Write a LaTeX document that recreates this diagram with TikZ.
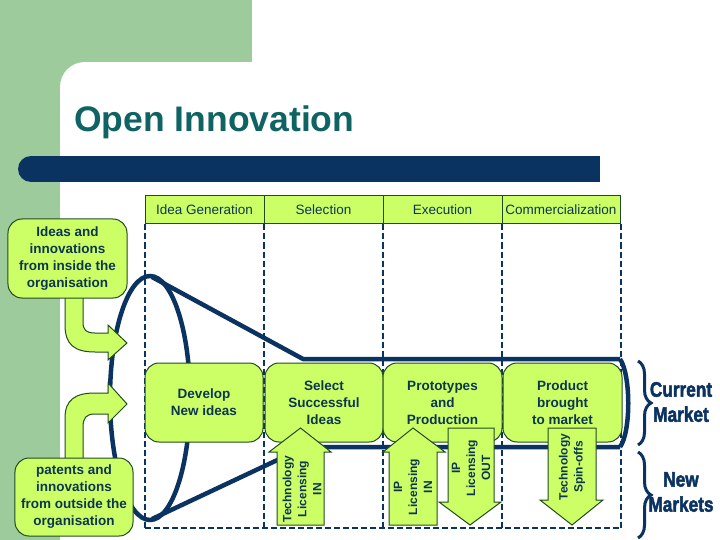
\documentclass[tikz,border=0pt]{standalone}
\usepackage{fontspec}
\usepackage{graphicx}
\setmainfont{Liberation Sans}
\newfontfamily\mktfont{Liberation Sans}[BoldFeatures={FakeBold=2.5}]
\usetikzlibrary{decorations.pathreplacing}
\definecolor{bggreen}{HTML}{9DCB9B}
\definecolor{lgreen}{HTML}{CCFF66}
\definecolor{dkgreen}{HTML}{224A22}
\definecolor{navy}{HTML}{0B3361}
\definecolor{txtnavy}{HTML}{0D3550}
\definecolor{titleteal}{HTML}{0F6363}
\begin{document}
\begin{tikzpicture}[x=1bp,y=-1bp,
  hdr/.style={draw=dkgreen, fill=lgreen, line width=1bp, minimum height=28bp, inner sep=0pt, text=txtnavy, font=\fontsize{13.5bp}{16bp}\selectfont},
  stagebox/.style={draw=dkgreen, fill=lgreen, line width=1bp, rounded corners=14bp, minimum height=79bp, inner sep=2bp, align=center, text=txtnavy, font=\bfseries\fontsize{13.5bp}{17bp}\selectfont},
  arrowshape/.style={draw=dkgreen, fill=lgreen, line width=1bp, line join=miter},
  arrowtext/.style={rotate=90, align=center, text=txtnavy, font=\bfseries\fontsize{12bp}{15bp}\selectfont, inner sep=0pt},
  dline/.style={draw=navy, line width=2bp, dash pattern=on 6bp off 3bp},
  funnel/.style={draw=navy, line width=4.5bp},
  brc/.style={draw=navy, line width=3bp, decorate, decoration={brace, amplitude=13bp}},
  mkt/.style={text=navy, align=center, font=\mktfont\bfseries\fontsize{21bp}{25bp}\selectfont}
]
\useasboundingbox (0,0) rectangle (720,540);
% background
\fill[white] (0,0) rectangle (720,540);
\fill[bggreen] (0,0) rectangle (252,62);
\fill[bggreen] (0,0) rectangle (60,540);
\fill[bggreen] (60,62) rectangle (85,87);
\fill[white] (85,87) circle[radius=25bp];
% title and bar
\node[anchor=west, text=titleteal, font=\bfseries\fontsize{35.5bp}{40bp}\selectfont, inner sep=0pt] (title) at (74,122) {Open Innovation};
\fill[navy] (31,156) rectangle (600,182);
\fill[navy] (31,169) circle[radius=13bp];
% header
\node[hdr, minimum width=119bp] (h1) at (204.5,210) {Idea Generation};
\node[hdr, minimum width=119bp] (h2) at (323.5,210) {Selection};
\node[hdr, minimum width=119bp] (h3) at (442.5,210) {Execution};
\node[hdr, minimum width=118bp] (h4) at (561,210) {Commercialization};
% dashed grid
\foreach \h in {h1,h2,h3,h4} \draw[dline] (\h.south west) -- ++(0,304);
\draw[dline] (h4.south east) -- ++(0,304);
\draw[dline] (145,528) -- (620,528);
% funnel
\draw[funnel] (150,398) ellipse[x radius=40bp, y radius=122bp];
\draw[funnel, line join=round] (152,277) -- (303,359) -- (620,359);
\draw[funnel, line join=round] (152,519) -- (305,447) -- (620,447);
\draw[funnel] (620,359) .. controls (631,375) and (631,432) .. (620,447);
% bent arrows
\draw[arrowshape] (65,292) -- (65,325) .. controls (65,345) and (75,352) .. (95,352) -- (108,352) -- (108,360) -- (127,343) -- (108,325) -- (108,333) -- (95,333) .. controls (86,333) and (83,330) .. (83,322) -- (83,292) -- cycle;
\draw[arrowshape] (65,462) -- (65,418) .. controls (65,400) and (75,393) .. (95,393) -- (108,393) -- (108,383) -- (127,404) -- (108,423) -- (108,414) -- (95,414) .. controls (86,414) and (83,418) .. (83,427) -- (83,462) -- cycle;
% boxes
\node[stagebox, minimum width=119bp] (inside) at (67.5,258.5) {Ideas and\\innovations\\from inside the\\organisation};
\node[stagebox, minimum width=118bp, minimum height=78bp] (outside) at (74,497) {patents and\\innovations\\from outside the\\organisation};
\node[stagebox, minimum width=118bp] (b1) at (204,402.5) {Develop\\New ideas};
\node[stagebox, minimum width=118bp] (b2) at (324,402.5) {Select\\Successful\\Ideas};
\node[stagebox, minimum width=119bp] (b3) at (442.5,402.5) {Prototypes\\and\\Production};
\node[stagebox, minimum width=119bp] (b4) at (562.5,402.5) {Product\\brought\\to market};
% vertical arrows
\draw[arrowshape] (277,525) -- (277,452) -- (269,452) -- (300.5,428) -- (331,452) -- (324,452) -- (324,525) -- cycle;
\draw[arrowshape] (389,525) -- (389,452) -- (383,452) -- (413,428) -- (445,452) -- (437,452) -- (437,525) -- cycle;
\draw[arrowshape] (448,428) -- (448,502) -- (439,502) -- (470,525) -- (501,502) -- (494,502) -- (494,428) -- cycle;
\draw[arrowshape] (548,428) -- (548,500) -- (540,500) -- (572,525) -- (603,500) -- (596,500) -- (596,428) -- cycle;
\node[arrowtext] (t1) at (302,489) {Technology\\Licensing\\IN};
\node[arrowtext] (t2) at (413,487) {IP\\Licensing\\IN};
\node[arrowtext] (t3) at (471,468) {IP\\Licensing\\OUT};
\node[arrowtext] (t4) at (572,467) {Technology\\Spin-offs};
% braces and markets
\draw[brc] (638,361) -- (638,445);
\draw[brc] (638,452) -- (638,538);
\node[mkt] (cm) at (681,402) {\scalebox{0.82}[1]{Current}\\\scalebox{0.82}[1]{Market}};
\node[mkt] (nm) at (681,492) {\scalebox{0.82}[1]{New}\\\scalebox{0.82}[1]{Markets}};
\end{tikzpicture}
\end{document}
